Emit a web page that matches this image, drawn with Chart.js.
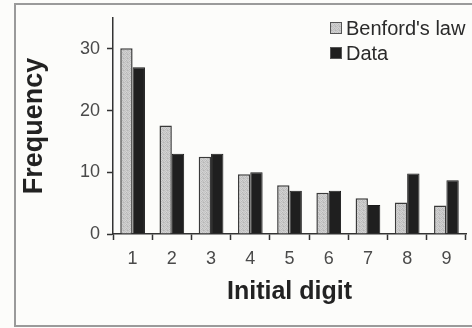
<!DOCTYPE html>
<html>
<head>
<meta charset="utf-8">
<style>
  html, body { margin: 0; padding: 0; background: #fcfcfa; }
  #wrap { position: relative; width: 472px; height: 328px; }
</style>
<script src="https://cdn.jsdelivr.net/npm/chart.js@4/dist/chart.umd.min.js"></script>
</head>
<body>
<div id="wrap"><canvas id="myChart" width="472" height="328"></canvas></div>
<script>
const digits = ['1', '2', '3', '4', '5', '6', '7', '8', '9'];
const benford = [30.1, 17.6, 12.5, 9.7, 7.9, 6.7, 5.8, 5.1, 4.6];
const observed = [27, 13, 13, 10, 7, 7, 4.7, 9.8, 8.7];
const yTicks = [0, 10, 20, 30];

// light stippled grey like the printed figure
function stipple() {
    const c = document.createElement('canvas');
    c.width = 4; c.height = 4;
    const g = c.getContext('2d');
    const shades = ['#c4c4c4', '#d6d6d6', '#b8b8b8', '#cfcfcf',
                    '#d2d2d2', '#bcbcbc', '#cbcbcb', '#c0c0c0',
                    '#bfbfbf', '#d0d0d0', '#c6c6c6', '#b6b6b6',
                    '#cdcdcd', '#c2c2c2', '#d4d4d4', '#c8c8c8'];
    shades.forEach((s, i) => { g.fillStyle = s; g.fillRect(i % 4, Math.floor(i / 4), 1, 1); });
    return g.createPattern(c, 'repeat');
}

const frame = {
    id: 'frame',
    beforeDraw(chart) {
        const ctx = chart.ctx;
        ctx.save();
        ctx.fillStyle = '#fcfcfa';
        ctx.fillRect(0, 0, chart.width, chart.height);
        ctx.strokeStyle = '#9a9a9a';
        ctx.lineWidth = 2;
        ctx.beginPath();
        ctx.moveTo(chart.width + 2, 4);
        ctx.lineTo(15, 4);
        ctx.lineTo(15, 326);
        ctx.lineTo(chart.width + 2, 326);
        ctx.stroke();
        ctx.restore();
    }
};

const cornerLegend = {
    id: 'cornerLegend',
    afterDraw(chart) {
        const ctx = chart.ctx;
        const x = chart.chartArea.right - 136;
        ctx.save();
        ctx.font = '20px "Liberation Sans", Arial, sans-serif';
        ctx.textBaseline = 'middle';
        chart.data.datasets.forEach((ds, i) => {
            const y = 28 + i * 25;
            ctx.fillStyle = ds.backgroundColor;
            ctx.fillRect(x, y - 6, 12, 12);
            ctx.strokeStyle = '#555';
            ctx.lineWidth = 1;
            ctx.strokeRect(x + 0.5, y - 5.5, 11, 11);
            ctx.fillStyle = '#2a2a2a';
            ctx.fillText(ds.label, x + 16, y + 1);
        });
        ctx.restore();
    }
};

const ctx = document.getElementById('myChart').getContext('2d');
const chart = new Chart(ctx, {
    type: 'bar',
    data: {
        labels: digits,
        datasets: [{
            label: "Benford's law",
            data: benford,
            backgroundColor: stipple(),
            borderColor: '#3a3a3a',
            borderWidth: 1.5
        }, {
            label: 'Data',
            data: observed,
            backgroundColor: '#1f1f1f',
            borderColor: '#1a1a1a',
            borderWidth: 1
        }]
    },
    options: {
        responsive: false,
        animation: false,
        layout: { padding: { left: 0, top: 18, right: 6, bottom: 0 } },
        plugins: {
            legend: { display: false },
            tooltip: { enabled: false }
        },
        datasets: {
            bar: { categoryPercentage: 0.63, barPercentage: 1 }
        },
        scales: {
            x: {
                offset: true,
                afterFit: (s) => { s.height = 94; },
                grid: { offset: true, drawOnChartArea: false, tickLength: 6, tickColor: '#333', tickWidth: 1.5 },
                border: { color: '#333', width: 1.5 },
                ticks: { color: '#4a4a4a', padding: 8, font: { family: '"Liberation Sans", Arial, sans-serif', size: 18 } },
                title: {
                    display: true,
                    text: 'Initial digit',
                    color: '#222',
                    padding: { top: 0, bottom: 21 },
                    font: { family: '"Liberation Sans", Arial, sans-serif', size: 25, weight: 'bold' }
                }
            },
            y: {
                min: 0,
                max: 35,
                afterFit: (s) => { s.width = 113; },
                afterBuildTicks: (s) => { s.ticks = yTicks.map(v => ({ value: v })); },
                grid: { drawOnChartArea: false, tickLength: 6, tickColor: '#333', tickWidth: 1.5 },
                border: { color: '#333', width: 1.5 },
                ticks: { color: '#4a4a4a', padding: 7, font: { family: '"Liberation Sans", Arial, sans-serif', size: 18 } },
                title: {
                    display: true,
                    text: 'Frequency',
                    color: '#222',
                    padding: { top: 18, bottom: 0 },
                    font: { family: '"Liberation Sans", Arial, sans-serif', size: 27, weight: 'bold' }
                }
            }
        }
    },
    plugins: [frame, cornerLegend]
});
</script>
</body>
</html>
